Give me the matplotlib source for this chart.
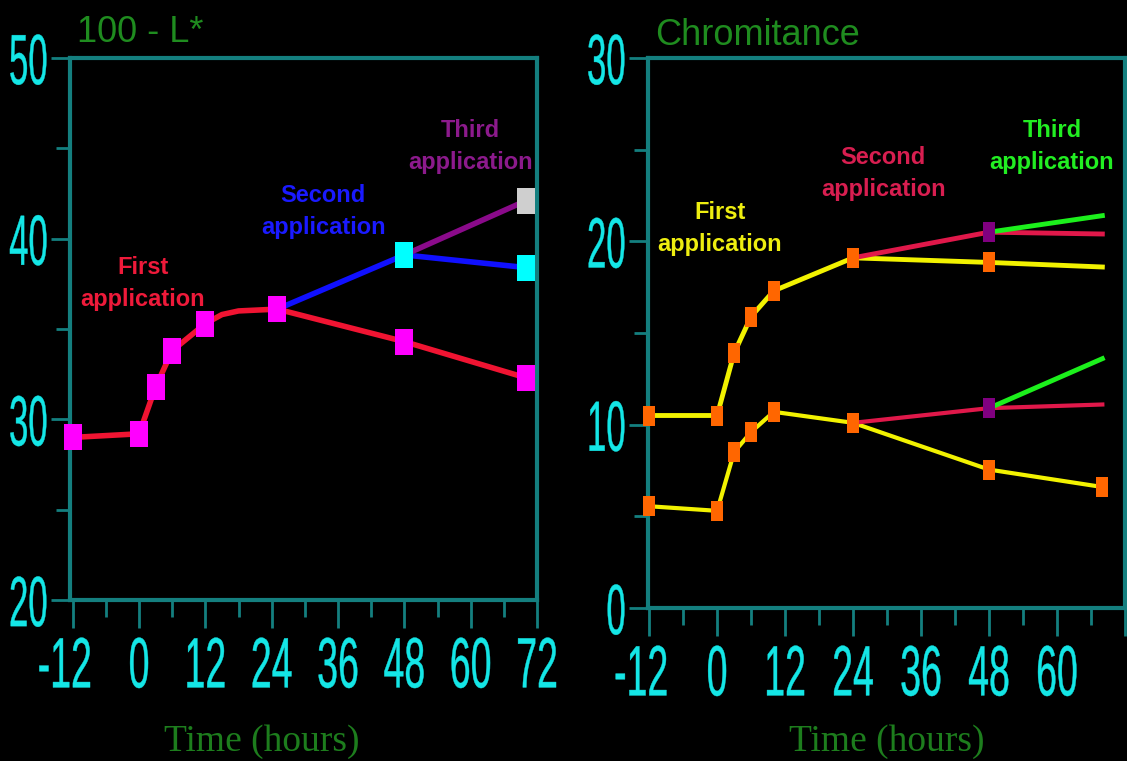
import matplotlib
matplotlib.use('Agg')
import matplotlib.pyplot as plt
from matplotlib.patheffects import AbstractPathEffect
from matplotlib.transforms import Affine2D, ScaledTranslation

# ---- 100 - L* (left panel) ----
lum_first_t = [-12, 0, 3, 6, 12, 15, 18, 25, 48, 70]
lum_first_v = [29.0, 29.2, 31.8, 33.8, 35.3, 35.8, 36.0, 36.1, 34.3, 32.3]
lum_first_marks = [0, 1, 2, 3, 4, 7, 8, 9]
lum_second_t = [25, 48, 70]
lum_second_v = [36.1, 39.1, 38.4]
lum_third_t = [48, 70]
lum_third_v = [39.1, 42.1]

# ---- Chromitance (right panel) ----
chr_t = [-12, 0, 3, 6, 10, 24, 48, 68]
chr_first_hi = [10.5, 10.5, 13.9, 15.9, 17.3, 19.1, 18.85, 18.6]
chr_first_lo = [5.55, 5.3, 8.5, 9.6, 10.7, 10.1, 7.55, 6.6]
chr_second_t = [24, 48, 68]
chr_second_hi = [19.1, 20.5, 20.4]
chr_second_lo = [10.1, 10.9, 11.1]
chr_third_t = [48, 68]
chr_third_hi = [20.5, 21.4]
chr_third_lo = [10.9, 13.6]

x_ticks = [-12, 0, 12, 24, 36, 48, 60, 72]
x_labels_left = ['-12', '0', '12', '24', '36', '48', '60', '72']
x_labels_right = ['-12', '0', '12', '24', '36', '48', '60', '']

teal = '#147f7f'
cyan = '#14e6e6'
tall_sq = [(-2, -3), (2, -3), (2, 3), (-2, 3)]
sans = ['Liberation Sans', 'DejaVu Sans']


class Tall(AbstractPathEffect):
    # stretch glyphs vertically around the middle of the digits
    def __init__(self, sy, lw):
        super().__init__()
        self.sy = sy
        self.lw = lw

    def draw_path(self, renderer, gc, tpath, affine, rgbFace=None):
        t = Affine2D().translate(0, -36).scale(1, self.sy).translate(0, 36)
        gc0 = renderer.new_gc()
        gc0.copy_properties(gc)
        gc0.set_linewidth(self.lw)
        gc0.set_foreground(rgbFace)
        renderer.draw_path(gc0, tpath, t + affine, rgbFace)
        gc0.restore()


def style_axes(ax, xlabels, yticks, yminor):
    ax.set_facecolor('black')
    for s in ax.spines.values():
        s.set_color(teal)
        s.set_linewidth(3)
    ax.set_xticks(x_ticks)
    ax.set_xticks(range(-6, 72, 12), minor=True)
    ax.set_yticks(yticks)
    ax.set_yticks(yminor, minor=True)
    ax.set_xticklabels(xlabels, fontsize=27, family=sans, color=cyan)
    ax.set_yticklabels([str(v) for v in yticks], fontsize=25, family=sans, color=cyan)
    ax.tick_params(axis='x', which='major', length=20, width=2, color=teal, pad=14)
    ax.tick_params(axis='x', which='minor', length=12, width=2, color=teal)
    ax.tick_params(axis='y', which='major', length=14, width=2, color=teal, pad=2)
    ax.tick_params(axis='y', which='minor', length=10, width=2, color=teal)
    for lbl in ax.get_xticklabels():
        lbl.set_path_effects([Tall(1.9, 0.3)])
    for lbl in ax.get_yticklabels():
        lbl.set_path_effects([Tall(2.05, 0.3)])
    # the minus of -12 hangs to the left of the tick
    first = ax.get_xticklabels()[0]
    first.set_transform(first.get_transform() + ScaledTranslation(-0.08, 0, fig.dpi_scale_trans))
    ax.set_xlabel('Time (hours)', fontsize=27, family=['Liberation Serif', 'DejaVu Serif'],
                  color='#1d7d1d')


fig = plt.figure(figsize=(11.27, 7.61), dpi=100, facecolor='black')

# left panel
ax1 = fig.add_axes([70 / 1127, 161 / 761, 467 / 1127, 542 / 761])
ax1.plot(lum_first_t, lum_first_v, color='#f01432', lw=4, solid_capstyle='round', zorder=2)
ax1.plot(lum_second_t, lum_second_v, color='#1010ff', lw=4, zorder=2)
ax1.plot(lum_third_t, lum_third_v, color='#8a0a8a', lw=4, zorder=2)
ax1.plot(lum_first_t, lum_first_v, ls='none', marker=tall_sq, ms=19, mew=0,
         color='#ff00ff', markevery=lum_first_marks, zorder=3, clip_on=False)
ax1.plot(lum_second_t[1:], lum_second_v[1:], ls='none', marker=tall_sq, ms=19, mew=0,
         color='#00ffff', zorder=3, clip_on=False)
ax1.plot(lum_third_t[1:], lum_third_v[1:], ls='none', marker=tall_sq, ms=19, mew=0,
         color='#cfcfcf', zorder=3, clip_on=False)
ax1.set_xlim(-12.5, 72)
ax1.set_ylim(20, 50)
style_axes(ax1, x_labels_left, [20, 30, 40, 50], [25, 35, 45])
ax1.xaxis.set_label_coords(0.41, -0.229)
ax1.text(0.015, 1.03, '100 - L*', transform=ax1.transAxes, fontsize=26, family=sans,
         color='#1f8c1f', va='baseline')
ax1.text(0.7, 37.5, 'First\napplication', ha='center', va='center', fontsize=17,
         fontweight='bold', family=sans, color='#ee1a3a', linespacing=1.5)
ax1.text(33.3, 41.5, 'Second\napplication', ha='center', va='center', fontsize=17,
         fontweight='bold', family=sans, color='#1a1aff', linespacing=1.5)
ax1.text(59.9, 45.1, 'Third\napplication', ha='center', va='center', fontsize=17,
         fontweight='bold', family=sans, color='#8c1a8c', linespacing=1.5)

# right panel
ax2 = fig.add_axes([648 / 1127, 153 / 761, 477 / 1127, 550 / 761])
ax2.plot(chr_t, chr_first_hi, color='#f2f200', lw=3.5, zorder=2)
ax2.plot(chr_t, chr_first_lo, color='#f2f200', lw=3, zorder=2)
ax2.plot(chr_second_t, chr_second_hi, color='#e0184a', lw=3.5, zorder=2)
ax2.plot(chr_second_t, chr_second_lo, color='#e0184a', lw=3, zorder=2)
ax2.plot(chr_third_t, chr_third_hi, color='#1cf01c', lw=3.5, zorder=2)
ax2.plot(chr_third_t, chr_third_lo, color='#1cf01c', lw=3.5, zorder=2)
ax2.plot(chr_t[:-1], chr_first_hi[:-1], ls='none', marker=tall_sq, ms=14, mew=0,
         color='#ff6600', zorder=3, clip_on=False)
ax2.plot(chr_t, chr_first_lo, ls='none', marker=tall_sq, ms=14, mew=0,
         color='#ff6600', zorder=3, clip_on=False)
ax2.plot([chr_second_t[1]] * 2, [chr_second_hi[1], chr_second_lo[1]], ls='none',
         marker=tall_sq, ms=14, mew=0, color='#800080', zorder=3)
ax2.set_xlim(-12.2, 72)
ax2.set_ylim(0, 30)
style_axes(ax2, x_labels_right, [0, 10, 20, 30], [5, 15, 25])
ax2.xaxis.set_label_coords(0.5, -0.211)
ax2.text(0.015, 1.024, 'Chromitance', transform=ax2.transAxes, fontsize=26, family=sans,
         color='#1f8c1f', va='baseline')
ax2.text(0.5, 20.7, 'First\napplication', ha='center', va='center', fontsize=17,
         fontweight='bold', family=sans, color='#eeee10', linespacing=1.5)
ax2.text(29.3, 23.7, 'Second\napplication', ha='center', va='center', fontsize=17,
         fontweight='bold', family=sans, color='#d81e50', linespacing=1.5)
ax2.text(59.1, 25.2, 'Third\napplication', ha='center', va='center', fontsize=17,
         fontweight='bold', family=sans, color='#22ee22', linespacing=1.5)

fig.savefig('out.png', dpi=100, facecolor='black')
